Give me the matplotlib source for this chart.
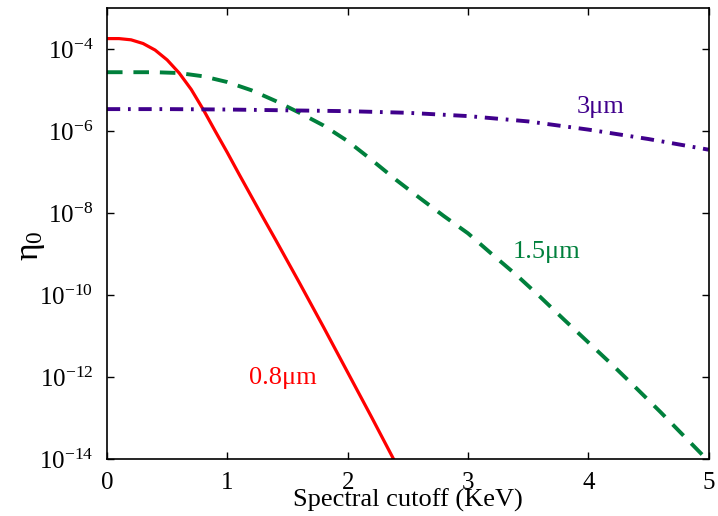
import matplotlib
matplotlib.use('Agg')
import matplotlib.pyplot as plt
import numpy as np

plt.rcParams['font.family'] = 'Liberation Serif'
plt.rcParams['mathtext.fontset'] = 'custom'
plt.rcParams['mathtext.rm'] = 'Liberation Serif'
plt.rcParams['mathtext.it'] = 'Liberation Serif:italic'

# log10(eta_0) versus spectral cutoff, one series per wavelength
x_08 = [0, 0.1, 0.2, 0.3, 0.4, 0.5, 0.6, 0.7, 0.8, 0.9, 1.0, 1.1, 1.2, 1.3, 1.4,
        1.6, 1.8, 2.0, 2.2, 2.4]
log_08 = [-3.74, -3.74, -3.77, -3.86, -4.02, -4.26, -4.58, -4.98, -5.47, -6.0, -6.52,
          -7.06, -7.59, -8.12, -8.64, -9.7, -10.78, -11.88, -12.98, -14.1]

x_15 = [0, 0.2, 0.4, 0.6, 0.8, 1.0, 1.2, 1.4, 1.6, 1.8, 2.0, 2.2, 2.4, 2.6, 2.8,
        3.0, 3.2, 3.4, 3.6, 3.8, 4.0, 4.2, 4.4, 4.6, 4.8, 5.0]
log_15 = [-4.56, -4.56, -4.56, -4.58, -4.66, -4.8, -5.0, -5.26, -5.55, -5.86, -6.24,
          -6.7, -7.18, -7.63, -8.07, -8.49, -9.0, -9.5, -10.04, -10.6, -11.15, -11.7,
          -12.27, -12.85, -13.45, -14.05]

x_3 = [0, 0.5, 1.0, 1.5, 2.0, 2.5, 3.0, 3.5, 4.0, 4.5, 5.0]
log_3 = [-5.46, -5.46, -5.47, -5.49, -5.51, -5.55, -5.63, -5.76, -5.96, -6.19, -6.45]

labels = ['0.8\u03bcm', '1.5\u03bcm', '3\u03bcm']
label_pos = [(1.465, -12.02), (3.65, -8.95), (4.1, -5.41)]

red = '#ff0000'
green = '#00803c'
purple = '#40008c'

fig = plt.figure(figsize=(7.18, 5.16), dpi=100)
ax = fig.add_axes([0.149, 0.110, 0.838, 0.874])

ax.semilogy(x_08, 10.0 ** np.array(log_08), color=red, lw=2.3)
ax.semilogy(x_15, 10.0 ** np.array(log_15), color=green, lw=2.8, dashes=(4.0, 2.8))
ax.semilogy(x_3, 10.0 ** np.array(log_3), color=purple, lw=2.8,
            dashes=(3.4, 2.0, 0.7, 2.0))

for text, (tx, ty), c in zip(labels, label_pos, [red, green, purple]):
    ax.text(tx, 10.0 ** ty, text, color=c, fontsize=19, ha='center', va='center')

ax.set_xlim(0, 5)
ax.set_ylim(1e-14, 1e-3)
ax.set_xticks([0, 1, 2, 3, 4, 5])
yt = [1e-14, 1e-12, 1e-10, 1e-8, 1e-6, 1e-4]
ax.set_yticks(yt)
ax.set_yticklabels([r'$10^{%d}$' % int(np.log10(v)) for v in yt])
ax.minorticks_off()
ax.tick_params(direction='in', length=5, width=1, top=True, right=True,
               labelsize=18)
ax.tick_params(axis='x', pad=9)
ax.tick_params(axis='y', pad=10)
for s in ax.spines.values():
    s.set_linewidth(1.2)

ax.set_xlabel('Spectral cutoff (KeV)', fontsize=19, labelpad=-4)
ax.set_ylabel('\u03b7$_0$', fontsize=24)
ax.yaxis.set_label_coords(-0.1, 0.474)

fig.savefig('out.png', dpi=100)
